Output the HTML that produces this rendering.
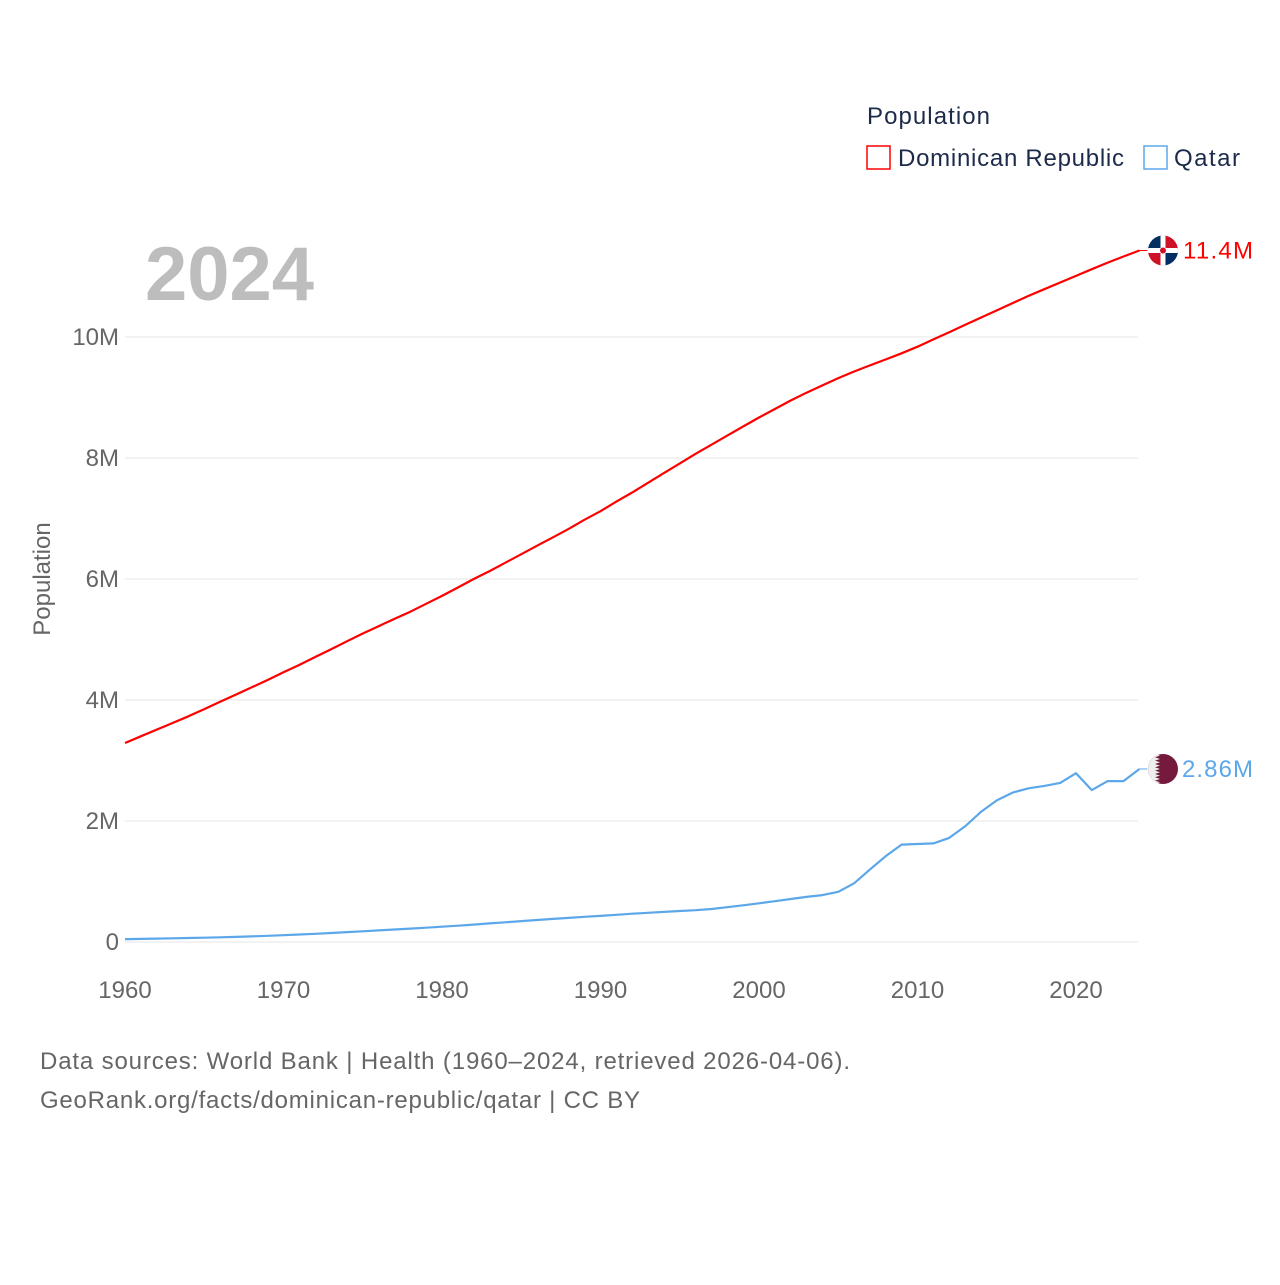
<!DOCTYPE html>
<html><head><meta charset="utf-8">
<style>
body{margin:0;background:#fff;width:1280px;height:1280px;overflow:hidden;font-family:"Liberation Sans",sans-serif}
svg text{font-family:"Liberation Sans",sans-serif}
</style></head><body>
<svg id="chart" width="1280" height="1280" xmlns="http://www.w3.org/2000/svg">
<g id="grid"></g>
<g id="yticks"></g>
<g id="xticks"></g>
<text x="145" y="300" font-size="76" font-weight="bold" fill="#bdbdbd">2024</text>
<text transform="translate(50,579) rotate(-90)" text-anchor="middle" font-size="24" fill="#666">Population</text>
<text x="867" y="124" font-size="24" fill="#1d2b4a" textLength="123">Population</text>
<rect x="867" y="146" width="23" height="23" fill="none" stroke="#f00" stroke-width="1.5"/>
<text x="898" y="166" font-size="24" fill="#1d2b4a" textLength="226">Dominican Republic</text>
<rect x="1144" y="146" width="23" height="23" fill="none" stroke="#5ca7ea" stroke-width="1.5"/>
<text x="1174" y="166" font-size="24" fill="#1d2b4a" textLength="66">Qatar</text>
<g id="series"></g>
<text x="40" y="1069" font-size="24" fill="#666" textLength="810">Data sources: World Bank | Health (1960–2024, retrieved 2026-04-06).</text>
<text x="40" y="1108" font-size="24" fill="#666" textLength="600">GeoRank.org/facts/dominican-republic/qatar | CC BY</text>
</svg>
<script>
const years=[];for(let y=1960;y<=2024;y++)years.push(y);
const drValues=[3.29,3.40,3.51,3.62,3.73,3.85,3.97,4.09,4.21,4.33,4.46,4.58,4.71,4.84,4.97,5.10,5.22,5.34,5.46,5.59,5.72,5.86,6.00,6.13,6.27,6.41,6.55,6.69,6.83,6.98,7.12,7.28,7.43,7.59,7.75,7.91,8.07,8.22,8.37,8.52,8.67,8.81,8.95,9.08,9.20,9.32,9.43,9.53,9.63,9.73,9.84,9.96,10.08,10.20,10.32,10.44,10.56,10.68,10.79,10.90,11.01,11.12,11.23,11.33,11.43];
const qaValues=[0.047,0.051,0.056,0.061,0.066,0.071,0.077,0.084,0.092,0.102,0.113,0.124,0.136,0.149,0.163,0.177,0.192,0.207,0.222,0.237,0.253,0.270,0.288,0.307,0.326,0.345,0.363,0.381,0.399,0.416,0.432,0.450,0.467,0.483,0.498,0.512,0.526,0.545,0.575,0.607,0.640,0.675,0.710,0.745,0.775,0.830,0.970,1.20,1.42,1.61,1.62,1.63,1.72,1.91,2.15,2.34,2.47,2.54,2.58,2.63,2.79,2.51,2.66,2.66,2.86];
const yTicks=[0,2,4,6,8,10];
const yTickLabels=["0","2M","4M","6M","8M","10M"];
const xTicks=[1960,1970,1980,1990,2000,2010,2020];
const NS="http://www.w3.org/2000/svg";
const X=y=>125+(y-1960)*(1076-125)/60;
const Y=v=>942-v*60.5;
function el(t,a,p){const e=document.createElementNS(NS,t);for(const k in a)e.setAttribute(k,a[k]);p.appendChild(e);return e;}
const grid=document.getElementById('grid'),yt=document.getElementById('yticks'),xt=document.getElementById('xticks'),ser=document.getElementById('series');
yTicks.forEach((v,i)=>{
 const l=el('line',{x1:125,x2:1138,y1:Y(v),y2:Y(v),stroke:'#e6e6e6','stroke-width':1},grid);
 
 
 const t=el('text',{x:119,y:Y(v)+8,'text-anchor':'end','font-size':24,fill:'#666'},yt);
 t.textContent=yTickLabels[i];
 
 
});
xTicks.forEach(v=>{
 const t=el('text',{x:X(v),y:998,'text-anchor':'middle','font-size':24,fill:'#666'},xt);
 t.textContent=v;
 
 
});
function series(vals,color,name){
 const d=vals.map((v,i)=>(i?'L':'M')+X(years[i]).toFixed(1)+','+Y(v).toFixed(1)).join('');
 const p=el('path',{d:d,fill:'none',stroke:color,'stroke-width':2.2,'stroke-linejoin':'round'},ser);
 
 
 const last=vals[vals.length-1],ly=Y(last),lx=X(2024);
 const c=el('line',{x1:lx,x2:lx+8,y1:ly,y2:ly,stroke:color,'stroke-width':1},ser);
 
 
 return {ly:ly,lx:lx};
}
const dr=series(drValues,'#f00','dominican-republic');
const qa=series(qaValues,'#5ca7ea','qatar');
const fx=1163;
const g1=el('g',{},ser);


const c1=el('clipPath',{id:'c1'},g1);el('circle',{cx:fx,cy:dr.ly,r:15},c1);
const fg=el('g',{'clip-path':'url(#c1)'},g1);
el('rect',{x:fx-15,y:dr.ly-15,width:15,height:15,fill:'#002d62'},fg);
el('rect',{x:fx,y:dr.ly-15,width:15,height:15,fill:'#ce1126'},fg);
el('rect',{x:fx-15,y:dr.ly,width:15,height:15,fill:'#ce1126'},fg);
el('rect',{x:fx,y:dr.ly,width:15,height:15,fill:'#002d62'},fg);
el('rect',{x:fx-15,y:dr.ly-2.5,width:30,height:5,fill:'#fff'},fg);
el('rect',{x:fx-2.5,y:dr.ly-15,width:5,height:30,fill:'#fff'},fg);
el('circle',{cx:fx,cy:dr.ly,r:3,fill:'#ce1126'},fg);
const g2=el('g',{},ser);


el('circle',{cx:fx,cy:qa.ly,r:15,fill:'#751a3d'},g2);
let zz='M'+(fx-15)+','+(qa.ly-15);
for(let i=0;i<9;i++){zz+='L'+(fx-8)+','+(qa.ly-15+i*30/9)+'L'+(fx-3)+','+(qa.ly-15+(i+0.5)*30/9);}
zz+='L'+(fx-8)+','+(qa.ly+15)+'L'+(fx-15)+','+(qa.ly+15)+'Z';
const cq=el('clipPath',{id:'c2'},g2);el('circle',{cx:fx,cy:qa.ly,r:15},cq);
el('path',{d:zz,fill:'#eee','clip-path':'url(#c2)'},g2);
const t1=el('text',{x:1183,y:dr.ly+8,'font-size':24,fill:'#f00',textLength:70},ser);
t1.textContent='11.4M';


const t2=el('text',{x:1182,y:qa.ly+8,'font-size':24,fill:'#5ca7ea',textLength:71},ser);
t2.textContent='2.86M';


</script>
</body></html>
